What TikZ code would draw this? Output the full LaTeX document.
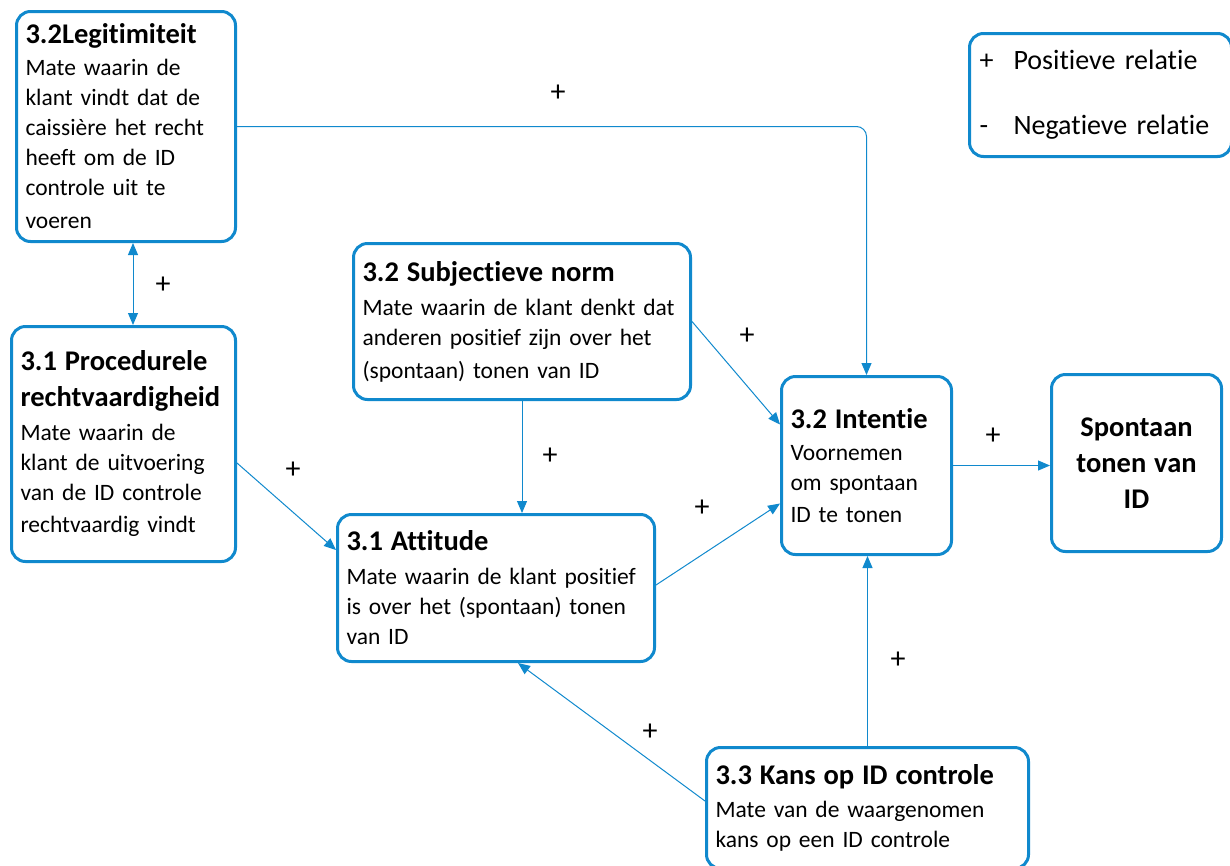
\documentclass[tikz,border=0pt]{standalone}
\usepackage{fontspec}
\setmainfont{Carlito}[Ligatures=NoCommon]
\usepackage{xcolor}
\usepackage{tikz}
\usetikzlibrary{arrows.meta,positioning,calc}
\definecolor{lineblue}{RGB}{16,137,205}
\newcommand{\boxtitle}[1]{{\fontsize{28.5}{36}\selectfont\bfseries #1}}
\newcommand{\nobreaklines}{\rightskip=-30pt plus 1fil\hyphenpenalty=10000\relax}
\tikzset{
  box/.style={draw=lineblue,line width=3pt,rounded corners=14pt,anchor=north west,align=left,
    inner xsep=9pt,inner ysep=4pt,font=\fontsize{23.5}{30}\selectfont},
  plus/.style={font=\fontsize{30}{30}\selectfont,inner sep=0pt},
  arr/.style={-{Triangle[length=12pt,width=10pt]},draw=lineblue,line width=1pt},
  darr/.style={{Triangle[length=12pt,width=10pt]}-{Triangle[length=12pt,width=10pt]},draw=lineblue,line width=1pt},
}
\begin{document}
\begin{tikzpicture}[x=1pt,y=-1pt]
\useasboundingbox (0,0) rectangle (1230,865);
% boxes
\node[box,minimum width=219pt,minimum height=230pt,text width=201pt] (legit) at (15,10)
  {\nobreaklines\boxtitle{3.2Legitimiteit}\\[2pt]Mate waarin de\\klant vindt dat de\\caissière het recht\\heeft om de ID\\controle uit te\\[3pt]voeren};
\node[box,minimum width=224pt,minimum height=235pt,text width=206pt] (proc) at (10,325)
  {\nobreaklines\boxtitle{3.1 Procedurele}\\[6pt]\boxtitle{rechtvaardigheid}\\[4pt]Mate waarin de\\klant de uitvoering\\van de ID controle\\[2pt]rechtvaardig vindt};
\node[box,minimum width=337pt,minimum height=156pt,text width=319pt] (subj) at (352,242)
  {\nobreaklines\boxtitle{3.2 Subjectieve norm}\\[4pt]Mate waarin de klant denkt dat\\anderen positief zijn over het\\[3pt](spontaan) tonen van ID};
\node[box,minimum width=317pt,minimum height=147pt,text width=299pt] (att) at (336,513)
  {\nobreaklines\boxtitle{3.1 Attitude}\\[4pt]Mate waarin de klant positief\\is over het (spontaan) tonen\\van ID};
\node[box,minimum width=170pt,minimum height=178pt,text width=152pt] (intentie) at (780,375)
  {\nobreaklines\boxtitle{3.2 Intentie}\\[2pt]Voornemen\\om spontaan\\[2pt]ID te tonen};
\node[box,minimum width=170pt,minimum height=177pt,text width=152pt,align=center] (spont) at (1050,373)
  {\boxtitle{Spontaan}\\[6pt]\boxtitle{tonen van}\\[6pt]\boxtitle{ID}};
\node[box,minimum width=322pt,minimum height=121pt,text width=304pt] (kans) at (705,746)
  {\nobreaklines\boxtitle{3.3 Kans op ID controle}\\[3pt]Mate van de waargenomen\\kans op een ID controle};
\node[box,minimum width=260pt,minimum height=123pt,text width=242pt,inner xsep=10pt,font=\fontsize{28}{34}\selectfont] (legend) at (968,32)
  {\nobreaklines\makebox[34pt][l]{+}Positieve relatie\\[31pt]\makebox[34pt][l]{-}Negatieve relatie};
% connectors
\draw[arr,rounded corners=10pt] (legit.east) -| (intentie.north);
\draw[darr] ([xshift=7pt]legit.south) -- ([xshift=7pt]legit.south |- proc.north);
\draw[arr] ([yshift=-19pt]proc.east) -- ([yshift=38pt]att.west);
\draw[arr] (subj.south) -- (subj.south |- att.north);
\draw[arr] (subj.east) -- ([yshift=41pt]intentie.west);
\draw[arr] ([yshift=3pt]att.east) -- ([yshift=-38pt]intentie.west);
\draw[arr] (intentie.east) -- (intentie.east -| spont.west);
\draw[arr] (kans.north) -- (kans.north |- intentie.south);
\draw[arr] ([yshift=7pt]kans.west) -- ([xshift=22pt]att.south);
% relation signs
\foreach \x/\y [count=\i] in {558/93,163/285,293/470,550/456,747/336,702/508,993/436,898/660,650/732}
  \node[plus] (p\i) at (\x,\y) {+};
\end{tikzpicture}
\end{document}
